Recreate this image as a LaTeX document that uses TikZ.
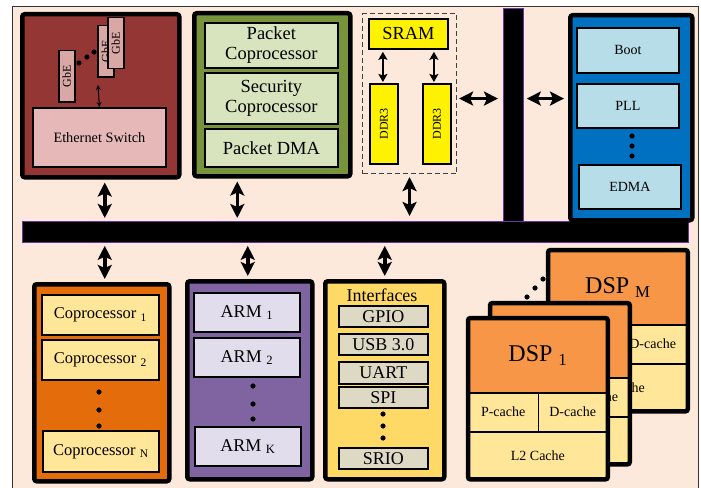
\documentclass[tikz,border=0pt]{standalone}
\usepackage{fontspec}
\setmainfont{Liberation Serif}
\usetikzlibrary{arrows.meta,positioning}

\definecolor{bgpeach}{HTML}{FDE9DC}
\definecolor{ethred}{HTML}{943634}
\definecolor{ethpink}{HTML}{E6B9B8}
\definecolor{gbepink}{HTML}{D9A8A5}
\definecolor{pktgreen}{HTML}{77933C}
\definecolor{pktlight}{HTML}{D7E4BD}
\definecolor{sysblue}{HTML}{0070C0}
\definecolor{syslight}{HTML}{B7DEE8}
\definecolor{busviolet}{HTML}{7030A0}
\definecolor{coporange}{HTML}{E46C0A}
\definecolor{cellyellow}{HTML}{FFE699}
\definecolor{armpurple}{HTML}{8064A2}
\definecolor{armlight}{HTML}{E2DDEC}
\definecolor{ifyellow}{HTML}{FFD966}
\definecolor{ifgray}{HTML}{DDD9C4}
\definecolor{dsporange}{HTML}{F79646}

\newcommand{\setfs}[1]{\fontsize{#1}{1.2\dimexpr#1pt\relax}\selectfont}

\begin{document}
\begin{tikzpicture}[
    x=1pt, y=-1pt,
    grp/.style={rectangle, draw, line width=4.5pt, rounded corners=2.5pt, anchor=north west, inner sep=0pt},
    cell/.style={rectangle, draw, line width=1.8pt, anchor=north west, inner sep=0pt, align=center},
    dspcell/.style={rectangle, draw, line width=0.8pt, fill=cellyellow, inner sep=0pt, minimum height=38pt, font=\setfs{14}},
    tinyarr/.style={{Stealth[length=5pt,width=5pt]}-{Stealth[length=5pt,width=5pt]}, line width=1pt},
    arr/.style={{Stealth[length=8pt,width=9pt,inset=1.5pt]}-{Stealth[length=8pt,width=9pt,inset=1.5pt]}, line width=2.2pt},
    bigarr/.style={{Stealth[length=14pt,width=14pt,inset=3pt]}-{Stealth[length=14pt,width=14pt,inset=3pt]}, line width=3.5pt}
  ]
    \useasboundingbox (0,0) rectangle (701,487);
    \draw[fill=bgpeach, draw=black!80, line width=0.8pt] (12,6) rectangle (698,495);

    % ethernet
    \node[grp, fill=ethred, minimum width=157pt, minimum height=163pt] (eth) at (20,12) {};
    \node[cell, fill=ethpink, minimum width=133pt, minimum height=59pt, font=\setfs{14.3}] (sw) at (32,107) {Ethernet Switch};
    \node[cell, fill=gbepink, line width=1.5pt, minimum width=16pt, minimum height=51pt, font=\setfs{12}] (gbe1) at (58,50) {\rotatebox{90}{GbE}};
    \node[cell, fill=gbepink, line width=1.5pt, minimum width=16pt, minimum height=51pt, font=\setfs{12}] (gbe2) at (97,25) {\rotatebox{90}{GbE}};
    \node[cell, fill=gbepink, line width=1.5pt, minimum width=16pt, minimum height=51pt, font=\setfs{12}] (gbe3) at (107,17) {\rotatebox{90}{GbE}};
    \foreach \dx/\dy in {79/63, 87/57, 94/52}
      \fill (\dx,\dy) circle (2.6);
    \coordinate (gbetap) at (98,85);
    \draw[tinyarr] (gbetap) -- (sw.north);

    % packet
    \node[grp, fill=pktgreen, minimum width=156pt, minimum height=163pt] (pkt) at (192,11) {};
    \node[cell, fill=pktlight, minimum width=133pt, minimum height=45pt, font=\setfs{18.5}] (pcop) at (204,22) {Packet\\[-2pt]Coprocessor};
    \node[cell, fill=pktlight, minimum width=133pt, minimum height=51pt, font=\setfs{18.5}] (scop) at (204,72) {Security\\[-2pt]Coprocessor};
    \node[cell, fill=pktlight, minimum width=133pt, minimum height=38pt, font=\setfs{18.5}] (pdma) at (204,128) {Packet DMA};

    % memory
    \node[draw=black!75, dash pattern=on 5pt off 3pt, line width=1.1pt, anchor=north west, minimum width=94pt, minimum height=160pt] (mem) at (362,13) {};
    \node[cell, fill=yellow, minimum width=79pt, minimum height=30pt, font=\setfs{18.4}] (sram) at (368,18) {SRAM};
    \node[cell, fill=yellow, minimum width=28pt, minimum height=80pt, font=\setfs{12}] (ddra) at (369,83) {\rotatebox{90}{DDR3}};
    \node[cell, fill=yellow, minimum width=28pt, minimum height=80pt, font=\setfs{12}] (ddrb) at (422,83) {\rotatebox{90}{DDR3}};
    \draw[arr, shorten <=2pt, shorten >=1pt] ([xshift=-1pt]ddra.north |- sram.south) -- ([xshift=-1pt]ddra.north);
    \draw[arr, shorten <=2pt, shorten >=1pt] ([xshift=-3pt]ddrb.north |- sram.south) -- ([xshift=-3pt]ddrb.north);

    % buses
    \node[fill=black, draw=busviolet, line width=0.8pt, anchor=north west, inner sep=0pt, minimum width=666pt, minimum height=21pt] (hbus) at (22,221) {};
    \node[fill=black, draw=busviolet, line width=0.8pt, anchor=north west, inner sep=0pt, minimum width=20pt, minimum height=213pt] (vbus) at (503,8) {};

    % system
    \node[grp, fill=sysblue, minimum width=122pt, minimum height=205pt] (sys) at (568,13) {};
    \node[cell, fill=syslight, minimum width=102pt, minimum height=45pt, font=\setfs{14}] (boot) at (576,27) {Boot};
    \node[cell, fill=syslight, minimum width=102pt, minimum height=44pt, font=\setfs{14}] (pll) at (576,83) {PLL};
    \node[cell, fill=syslight, minimum width=102pt, minimum height=44pt, font=\setfs{14}] (edma) at (578,164) {EDMA};
    \foreach \dy in {136,146,156}
      \fill (632,\dy) circle (2.6);

    \draw[bigarr, shorten <=2pt, shorten >=5pt] ([yshift=-5pt]mem.east) -- ([yshift=-5pt]mem.east -| vbus.west);
    \draw[bigarr, shorten <=3pt, shorten >=4pt] ([yshift=-5pt]mem.east -| vbus.east) -- ([yshift=-5pt]mem.east -| sys.west);

    \draw[bigarr, shorten <=3pt, shorten >=3pt] ([xshift=4pt]eth.south) -- ([xshift=4pt]eth.south |- hbus.north);
    \draw[bigarr, shorten <=3pt, shorten >=3pt] ([xshift=-35pt]pkt.south) -- ([xshift=-35pt]pkt.south |- hbus.north);
    \draw[bigarr, shorten <=3pt, shorten >=5pt] (mem.south) -- (mem.south |- hbus.north);

    % coprocessors
    \node[grp, fill=coporange, minimum width=135pt, minimum height=197pt] (cop) at (32,282) {};
    \node[cell, fill=cellyellow, minimum width=117pt, minimum height=40pt, font=\setfs{16.5}] (cop1) at (41,294) {Coprocessor \textsubscript{1}};
    \node[cell, fill=cellyellow, minimum width=117pt, minimum height=40pt, font=\setfs{16.5}] (cop2) at (41,339) {Coprocessor \textsubscript{2}};
    \node[cell, fill=cellyellow, minimum width=116pt, minimum height=41pt, font=\setfs{16.5}] (copn) at (42,430) {Coprocessor \textsubscript{N}};
    \foreach \dy in {392,410,426}
      \fill (99,\dy) circle (2.6);

    % arm
    \node[grp, fill=armpurple, minimum width=125pt, minimum height=198pt] (arm) at (185,279) {};
    \node[cell, fill=armlight, minimum width=106pt, minimum height=39pt, font=\setfs{18}] (arm1) at (193,292) {ARM \textsubscript{1}};
    \node[cell, fill=armlight, minimum width=106pt, minimum height=39pt, font=\setfs{18}] (arm2) at (193,337) {ARM \textsubscript{2}};
    \node[cell, fill=armlight, minimum width=106pt, minimum height=39pt, font=\setfs{18}] (armk) at (194,426) {ARM \textsubscript{K}};
    \foreach \dy in {386,404,419}
      \fill (253,\dy) circle (2.6);

    % interfaces
    \node[grp, fill=ifyellow, minimum width=119pt, minimum height=198pt] (ifc) at (323,279) {};
    \node[font=\setfs{18}, inner sep=0pt] (iftitle) at (382,295) {Interfaces};
    \node[cell, fill=ifgray, minimum width=89pt, minimum height=21pt, font=\setfs{18}] (gpio) at (338,305) {GPIO};
    \node[cell, fill=ifgray, minimum width=89pt, minimum height=21pt, font=\setfs{18}] (usb) at (338,333) {USB 3.0};
    \node[cell, fill=ifgray, minimum width=89pt, minimum height=22pt, font=\setfs{18}] (uart) at (338,361) {UART};
    \node[cell, fill=ifgray, minimum width=89pt, minimum height=21pt, font=\setfs{18}] (spi) at (338,386) {SPI};
    \node[cell, fill=ifgray, minimum width=89pt, minimum height=21pt, font=\setfs{18}] (srio) at (338,447) {SRIO};
    \foreach \dy in {414,426,438}
      \fill (383,\dy) circle (2.6);

    \draw[bigarr, shorten <=3pt, shorten >=3pt] ([xshift=3pt]cop.north |- hbus.south) -- ([xshift=3pt]cop.north);
    \draw[bigarr, shorten <=3pt, shorten >=3pt] ([xshift=-2pt]arm.north |- hbus.south) -- ([xshift=-2pt]arm.north);
    \draw[bigarr, shorten <=3pt, shorten >=3pt] (ifc.north |- hbus.south) -- (ifc.north);

    % dsp cores
    \foreach \px/\py/\nm/\lbl in {548/250/dspm/{DSP \textsubscript{M}}, 490/303/dspk/{}, 468/318/dspa/{DSP \textsubscript{1}}} {
      \node[draw, line width=0.8pt, fill=dsporange, anchor=north west, inner sep=0pt, minimum width=139pt, minimum height=74pt, font=\setfs{24}] (\nm-h) at (\px,\py) {\lbl};
      \node[dspcell, anchor=north west, minimum width=69.5pt] (\nm-p) at (\nm-h.south west) {P-cache};
      \node[dspcell, anchor=north east, minimum width=69.5pt] (\nm-d) at (\nm-h.south east) {D-cache};
      \node[dspcell, anchor=north west, minimum width=139pt, minimum height=47pt] (\nm-l) at (\nm-p.south west) {L2 Cache};
      \draw[line width=4.5pt, rounded corners=2.5pt] (\nm-h.north west) rectangle (\nm-l.south east);
    }
    \foreach \dx/\dy in {527/297, 535/288, 543/279}
      \fill (\dx,\dy) circle (2.6);
  \end{tikzpicture}
\end{document}
